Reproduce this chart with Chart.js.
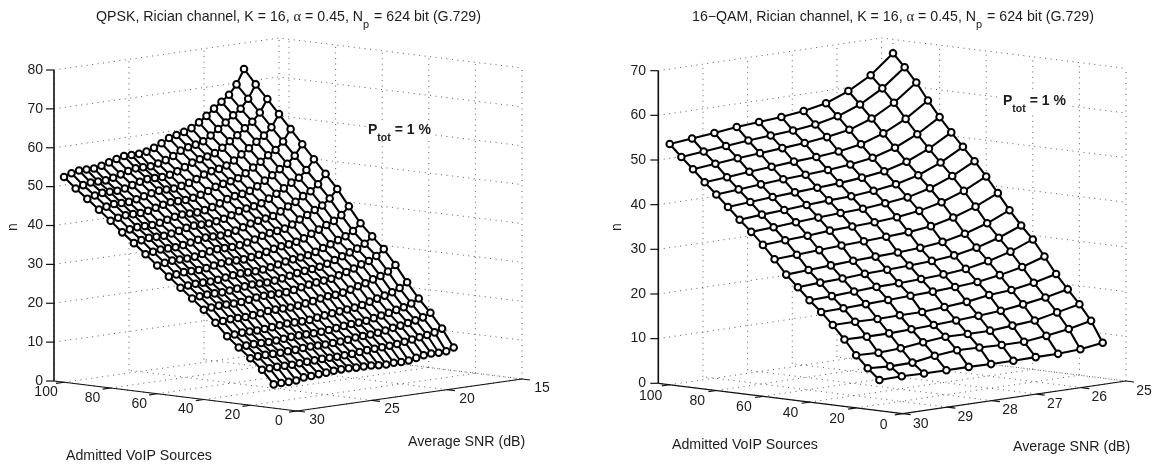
<!DOCTYPE html>
<html>
<head>
<meta charset="utf-8">
<title>VoIP admission</title>
<script src="https://cdn.jsdelivr.net/npm/chart.js@4/dist/chart.umd.min.js"></script>
<style>
  html, body { margin: 0; padding: 0; background: #fff; overflow: hidden; }
  canvas { position: absolute; top: 0; }
</style>
</head>
<body>
<canvas id="plotQpsk" width="578" height="464" style="left:0"></canvas>
<canvas id="plotQam" width="578" height="464" style="left:578px"></canvas>
<script>
const sourceNodes = [100, 95, 90, 85, 80, 75, 70, 65, 60, 55, 50, 45, 40, 35, 30, 25, 20, 15, 10];

const qpskSnr = [30, 29.5, 29, 28.5, 28, 27.5, 27, 26.5, 26, 25.5, 25, 24.5, 24, 23.5, 23, 22.5, 22, 21.5, 21, 20.5, 20, 19.5, 19, 18.5, 18];
const qpskN = [
  [52.8, 53.5, 53.9, 53.9, 53.9, 54.3, 54.9, 55.5, 56, 56, 56, 56.3, 57, 57.9, 59, 59.5, 60, 60.7, 61.9, 63.3, 64.9, 66.4, 67.9, 70.3, 74],
  [50.2, 50.8, 51.2, 51.2, 51.2, 51.6, 52.2, 52.8, 53.2, 53.2, 53.2, 53.6, 54.2, 55, 56.1, 56.7, 57.1, 57.7, 58.9, 60.3, 61.7, 63.3, 64.7, 67, 70.4],
  [47.9, 48.5, 48.9, 48.9, 48.9, 49.2, 49.8, 50.4, 50.8, 50.8, 50.8, 51.1, 51.7, 52.5, 53.4, 54, 54.4, 55, 56.1, 57.5, 58.8, 60.3, 61.7, 63.8, 67],
  [45.5, 46, 46.4, 46.4, 46.4, 46.8, 47.3, 47.8, 48.2, 48.2, 48.2, 48.6, 49.1, 49.8, 50.7, 51.3, 51.6, 52.2, 53.2, 54.5, 55.8, 57.2, 58.5, 60.4, 63.5],
  [43, 43.5, 43.9, 43.9, 43.9, 44.2, 44.7, 45.2, 45.6, 45.6, 45.6, 45.9, 46.4, 47.1, 47.9, 48.4, 48.8, 49.3, 50.3, 51.5, 52.7, 54.1, 55.2, 57.1, 60],
  [40.4, 40.9, 41.2, 41.2, 41.2, 41.5, 42, 42.5, 42.8, 42.8, 42.8, 43.1, 43.6, 44.3, 45.1, 45.6, 45.9, 46.4, 47.3, 48.5, 49.6, 50.9, 52, 53.8, 56.5],
  [38, 38.5, 38.8, 38.8, 38.8, 39.1, 39.5, 40, 40.3, 40.3, 40.3, 40.6, 41, 41.6, 42.4, 42.8, 43.1, 43.6, 44.5, 45.5, 46.6, 47.8, 48.8, 50.5, 53],
  [35.5, 35.9, 36.2, 36.2, 36.2, 36.5, 36.9, 37.3, 37.6, 37.6, 37.6, 37.9, 38.3, 38.9, 39.6, 40, 40.3, 40.7, 41.6, 42.6, 43.5, 44.7, 45.7, 47.2, 49.6],
  [33, 33.4, 33.7, 33.7, 33.7, 33.9, 34.3, 34.7, 35, 35, 35, 35.2, 35.6, 36.1, 36.8, 37.2, 37.5, 37.8, 38.6, 39.6, 40.5, 41.5, 42.4, 43.9, 46.1],
  [30.5, 30.8, 31.1, 31.1, 31.1, 31.3, 31.7, 32, 32.2, 32.2, 32.2, 32.5, 32.8, 33.3, 33.8, 34.2, 34.4, 34.8, 35.4, 36.3, 37.1, 38, 38.8, 40, 42],
  [28, 28.3, 28.5, 28.5, 28.5, 28.7, 29, 29.3, 29.5, 29.5, 29.5, 29.7, 30, 30.4, 30.9, 31.2, 31.4, 31.7, 32.3, 33, 33.7, 34.5, 35.2, 36.3, 38],
  [25.6, 25.9, 26.1, 26.1, 26.1, 26.3, 26.5, 26.8, 27, 27, 27, 27.2, 27.5, 27.9, 28.3, 28.6, 28.8, 29.1, 29.6, 30.3, 31, 31.7, 32.4, 33.4, 35],
  [23.1, 23.4, 23.6, 23.6, 23.6, 23.7, 24, 24.3, 24.5, 24.5, 24.5, 24.6, 24.9, 25.3, 25.7, 26, 26.2, 26.4, 27, 27.6, 28.2, 29, 29.6, 30.6, 32.1],
  [20.1, 20.3, 20.5, 20.5, 20.5, 20.7, 20.9, 21.2, 21.3, 21.3, 21.3, 21.5, 21.8, 22.1, 22.5, 22.8, 22.9, 23.2, 23.7, 24.3, 24.8, 25.5, 26.1, 27, 28.4],
  [17, 17.2, 17.4, 17.4, 17.4, 17.5, 17.7, 17.9, 18.1, 18.1, 18.1, 18.2, 18.5, 18.8, 19.1, 19.3, 19.5, 19.7, 20.1, 20.7, 21.2, 21.7, 22.3, 23.1, 24.3],
  [14.5, 14.7, 14.8, 14.8, 14.8, 14.9, 15.1, 15.3, 15.4, 15.4, 15.4, 15.5, 15.7, 15.9, 16.2, 16.4, 16.5, 16.7, 17.1, 17.5, 17.9, 18.4, 18.8, 19.5, 20.5],
  [12.1, 12.3, 12.4, 12.4, 12.4, 12.5, 12.6, 12.8, 12.9, 12.9, 12.9, 13, 13.1, 13.3, 13.6, 13.7, 13.8, 14, 14.3, 14.7, 15, 15.4, 15.8, 16.3, 17.2],
  [9.5, 9.6, 9.7, 9.7, 9.7, 9.8, 9.9, 10, 10.1, 10.1, 10.1, 10.2, 10.3, 10.5, 10.7, 10.8, 10.9, 11, 11.2, 11.5, 11.8, 12.1, 12.4, 12.8, 13.5],
  [6.1, 6.2, 6.2, 6.3, 6.8, 6.9, 7.1, 7.2, 7.4, 7.5, 7.5, 7.4, 7.4, 7.4, 7.2, 7.1, 7.3, 7.2, 7.3, 7.7, 8.1, 8.3, 8.2, 8.3, 9]
];

const qamSnr = [30, 29.5, 29, 28.5, 28, 27.5, 27, 26.5, 26, 25.5, 25];
const qamN = [
  [53.9, 54.4, 54.9, 55.5, 55.9, 56.3, 56.9, 57.9, 59.9, 62.7, 66.9],
  [51.3, 51.8, 52.3, 52.8, 53.2, 53.6, 54.2, 55.3, 57.2, 60.1, 64.1],
  [48.9, 49.4, 49.9, 50.3, 50.7, 51.1, 51.7, 52.6, 54.4, 57.2, 61],
  [46.3, 46.7, 47.2, 47.6, 48, 48.3, 48.8, 49.7, 51.4, 53.9, 57.3],
  [43.9, 44.3, 44.7, 45.1, 45.4, 45.7, 46.2, 47, 48.5, 50.8, 53.9],
  [41.4, 41.8, 42.2, 42.5, 42.8, 43.1, 43.6, 44.3, 45.7, 47.9, 50.8],
  [38.9, 39.3, 39.6, 40, 40.3, 40.5, 41, 41.7, 43, 45.1, 47.9],
  [36.5, 36.8, 37.2, 37.5, 37.8, 38, 38.5, 39.1, 40.4, 42.4, 45],
  [33.9, 34.2, 34.5, 34.9, 35.1, 35.3, 35.7, 36.4, 37.6, 39.4, 41.9],
  [31, 31.3, 31.6, 31.9, 32.1, 32.4, 32.7, 33.3, 34.5, 36.2, 38.5],
  [27.9, 28.2, 28.5, 28.8, 29, 29.2, 29.5, 30.1, 31.2, 32.8, 35],
  [25.4, 25.7, 25.9, 26.2, 26.4, 26.6, 26.9, 27.4, 28.4, 29.9, 31.9],
  [22.8, 23, 23.3, 23.6, 23.7, 23.9, 24.2, 24.7, 25.7, 27.1, 29.1],
  [20.5, 20.6, 20.8, 21, 21.2, 21.4, 21.7, 22.1, 22.9, 24, 25.6],
  [17.9, 17.9, 17.8, 17.9, 17.9, 18.3, 18.7, 19.5, 19.9, 20.8, 22],
  [15, 14.9, 14.9, 15.1, 15.3, 15.6, 15.9, 16.3, 17, 17.8, 18.9],
  [11.8, 11.6, 11.9, 12.5, 13, 12.9, 12.9, 13.3, 13.7, 14.8, 15.9],
  [9.2, 8.9, 9, 9.8, 10.3, 10.2, 10, 10, 10.6, 11.4, 12.5],
  [6.9, 7, 6.9, 6.9, 6.9, 6.8, 6.8, 6.9, 6.9, 7.2, 7.9]
];

const sourceTicks = [100, 80, 60, 40, 20, 0];
const qpskSnrTicks = [30, 25, 20, 15];
const qamSnrTicks = [30, 29, 28, 27, 26, 25];
const qpskZTicks = [0, 10, 20, 30, 40, 50, 60, 70, 80];
const qamZTicks = [0, 10, 20, 30, 40, 50, 60, 70];

const textColor = "#1c1c1c";
const sans = "'Liberation Sans', Arial, sans-serif";

// corners of the floor in canvas px
const qpskView = {
  front: {x: 297, y: 411}, right: {x: 522, y: 379}, left: {x: 54, y: 381},
  snrLo: 15, snrHi: 30, srcLim: 104.3, zPx: 3.8875, zMax: 80,
  srcOff: {x: -18, y: 10}, snrOff: {x: 20, y: 9},
  title: [["QPSK, Rician channel, K = 16, "], ["α", "serif"], [" = 0.45, N"], ["p", "sub"], [" = 624 bit (G.729)"]],
  titleX: 96, titleY: 17,
  zLabelX: 43, nPos: {x: 13, y: 227},
  snrLabel: {x: 408, y: 442}, srcLabel: {x: 66, y: 456}, ptot: {x: 368, y: 130}
};
const qamView = {
  front: {x: 324.7, y: 413.7}, right: {x: 548, y: 381}, left: {x: 80.3, y: 383.3},
  snrLo: 25, snrHi: 30, srcLim: 104.9, zPx: 4.466, zMax: 70,
  srcOff: {x: -19, y: 11}, snrOff: {x: 18, y: 10},
  title: [["16−QAM, Rician channel, K = 16, "], ["α", "serif"], [" = 0.45, N"], ["p", "sub"], [" = 624 bit (G.729)"]],
  titleX: 114, titleY: 17,
  zLabelX: 68, nPos: {x: 39, y: 227},
  snrLabel: {x: 435, y: 447}, srcLabel: {x: 94, y: 445}, ptot: {x: 425, y: 101}
};

function project(v, snr, src, z) {
  const t = (v.snrHi - snr) / (v.snrHi - v.snrLo);
  const w = src / v.srcLim;
  return {
    x: v.front.x + t * (v.right.x - v.front.x) + w * (v.left.x - v.front.x),
    y: v.front.y + t * (v.right.y - v.front.y) + w * (v.left.y - v.front.y) - z * v.zPx
  };
}

function lineSet(points, color, width, dash, order) {
  return {
    data: points, showLine: true, borderColor: color, borderWidth: width,
    borderDash: dash, pointRadius: 0, fill: false, tension: 0, order: order
  };
}

function frameSets(v, snrTicks, zTicks) {
  const sets = [];
  const grid = pts => sets.push(lineSet(pts, "#333", 0.8, [1, 4.5], 5));
  const lo = v.snrLo, hi = v.snrHi, lim = v.srcLim;
  snrTicks.forEach(s => {
    grid([project(v, s, 0, 0), project(v, s, lim, 0)]);
    grid([project(v, s, lim, 0), project(v, s, lim, v.zMax)]);
  });
  sourceTicks.forEach(s => {
    grid([project(v, hi, s, 0), project(v, lo, s, 0)]);
    grid([project(v, lo, s, 0), project(v, lo, s, v.zMax)]);
  });
  zTicks.forEach(z => {
    if (z === 0) return;
    grid([project(v, hi, lim, z), project(v, lo, lim, z), project(v, lo, 0, z)]);
  });
  grid([project(v, lo, lim, 0), project(v, lo, 0, 0)]);

  // axis lines and ticks
  const axis = (pts, w) => sets.push(lineSet(pts, "#111", w, [], 4));
  axis([project(v, hi, lim, 0), project(v, hi, lim, v.zMax)], 1.6);
  axis([project(v, hi, lim, 0), project(v, hi, 0, 0)], 1.2);
  axis([project(v, hi, 0, 0), project(v, lo, 0, 0)], 1.2);
  const tickSnr = (hi - lo) * 8 / 225, tickSrc = lim * 8 / 245;
  zTicks.forEach(z => {
    const p = project(v, hi, lim, z);
    axis([p, {x: p.x - 8, y: p.y}], 1.2);
  });
  sourceTicks.forEach(s => axis([project(v, hi, s, 0), project(v, hi + tickSnr, s, 0)], 1.2));
  snrTicks.forEach(s => axis([project(v, s, 0, 0), project(v, s, -tickSrc, 0)], 1.2));
  return sets;
}

function meshSets(v, snr, n) {
  const sets = [];
  const grid = n.map((row, r) => row.map((val, c) => project(v, snr[c], sourceNodes[r], val)));
  const last = grid.length - 1;
  const rimBottom = grid[last].slice().reverse();
  const rim = grid[0].concat(grid.map(r => r[r.length - 1]).slice(1), rimBottom.slice(1), grid.map(r => r[0]).reverse().slice(1));
  sets.push({
    data: rim, showLine: true, borderWidth: 0, pointRadius: 0, tension: 0,
    fill: "shape", backgroundColor: "#fff", order: 3
  });
  grid.forEach(row => sets.push(lineSet(row, "#000", 2.1, [], 2)));
  snr.forEach((s, c) => sets.push(lineSet(grid.map(r => r[c]), "#000", 2.1, [], 2)));
  sets.push({
    data: grid.flat(), showLine: false, pointRadius: 3.3, pointBorderWidth: 2,
    pointBackgroundColor: "#fff", pointBorderColor: "#000", order: 1
  });
  return sets;
}

function textPlugin(v, snrTicks, zTicks) {
  return {
    id: "plotText",
    afterDraw(chart) {
      const ctx = chart.ctx;
      const sx = chart.scales.x, sy = chart.scales.y;
      const at = p => ({x: sx.getPixelForValue(p.x), y: sy.getPixelForValue(p.y)});
      ctx.save();
      ctx.fillStyle = textColor;
      ctx.textBaseline = "middle";

      // tick labels
      ctx.font = "14px " + sans;
      ctx.textAlign = "right";
      zTicks.forEach(z => {
        const p = at(project(v, v.snrHi, v.srcLim, z));
        ctx.fillText(String(z), v.zLabelX, p.y);
      });
      ctx.textAlign = "center";
      sourceTicks.forEach(s => {
        const p = at(project(v, v.snrHi, s, 0));
        ctx.fillText(String(s), p.x + v.srcOff.x, p.y + v.srcOff.y);
      });
      snrTicks.forEach(s => {
        const p = at(project(v, s, 0, 0));
        ctx.fillText(String(s), p.x + v.snrOff.x, p.y + v.snrOff.y);
      });

      // axis titles
      ctx.textAlign = "left";
      ctx.font = "14.2px " + sans;
      ctx.fillText("Average SNR (dB)", v.snrLabel.x, v.snrLabel.y);
      ctx.fillText("Admitted VoIP Sources", v.srcLabel.x, v.srcLabel.y);
      ctx.save();
      ctx.translate(v.nPos.x, v.nPos.y);
      ctx.rotate(-Math.PI / 2);
      ctx.textAlign = "center";
      ctx.font = "14px " + sans;
      ctx.fillText("n", 0, 0);
      ctx.restore();

      // title, piece by piece because of the alpha and the subscript
      let x = v.titleX;
      v.title.forEach(([str, kind]) => {
        ctx.font = kind === "serif" ? "14.5px 'Liberation Serif', serif" : kind === "sub" ? "11px " + sans : "14.2px " + sans;
        ctx.fillText(str, x, kind === "sub" ? v.titleY + 8 : v.titleY);
        x += ctx.measureText(str).width + (kind === "sub" ? 1 : 0);
      });

      // P_tot note with its white box
      ctx.fillStyle = "#fff";
      ctx.fillRect(v.ptot.x - 2, v.ptot.y - 10, 68, 20);
      ctx.fillStyle = textColor;
      x = v.ptot.x;
      ctx.font = "bold 14px " + sans;
      ctx.fillText("P", x, v.ptot.y);
      x += ctx.measureText("P").width;
      ctx.font = "bold 10.5px " + sans;
      ctx.fillText("tot", x, v.ptot.y + 8);
      x += ctx.measureText("tot").width;
      ctx.font = "bold 14px " + sans;
      ctx.fillText(" = 1 %", x, v.ptot.y);
      ctx.restore();
    }
  };
}

function drawPlot(id, v, snr, n, snrTicks, zTicks) {
  new Chart(document.getElementById(id), {
    type: "scatter",
    data: {datasets: frameSets(v, snrTicks, zTicks).concat(meshSets(v, snr, n))},
    options: {
      responsive: false,
      animation: false,
      layout: {padding: 0, autoPadding: false},
      scales: {
        x: {type: "linear", min: 0, max: 578, display: false},
        y: {type: "linear", min: 0, max: 464, reverse: true, display: false}
      },
      plugins: {legend: {display: false}, tooltip: {enabled: false}}
    },
    plugins: [textPlugin(v, snrTicks, zTicks)]
  });
}

drawPlot("plotQpsk", qpskView, qpskSnr, qpskN, qpskSnrTicks, qpskZTicks);
drawPlot("plotQam", qamView, qamSnr, qamN, qamSnrTicks, qamZTicks);
</script>
</body>
</html>
